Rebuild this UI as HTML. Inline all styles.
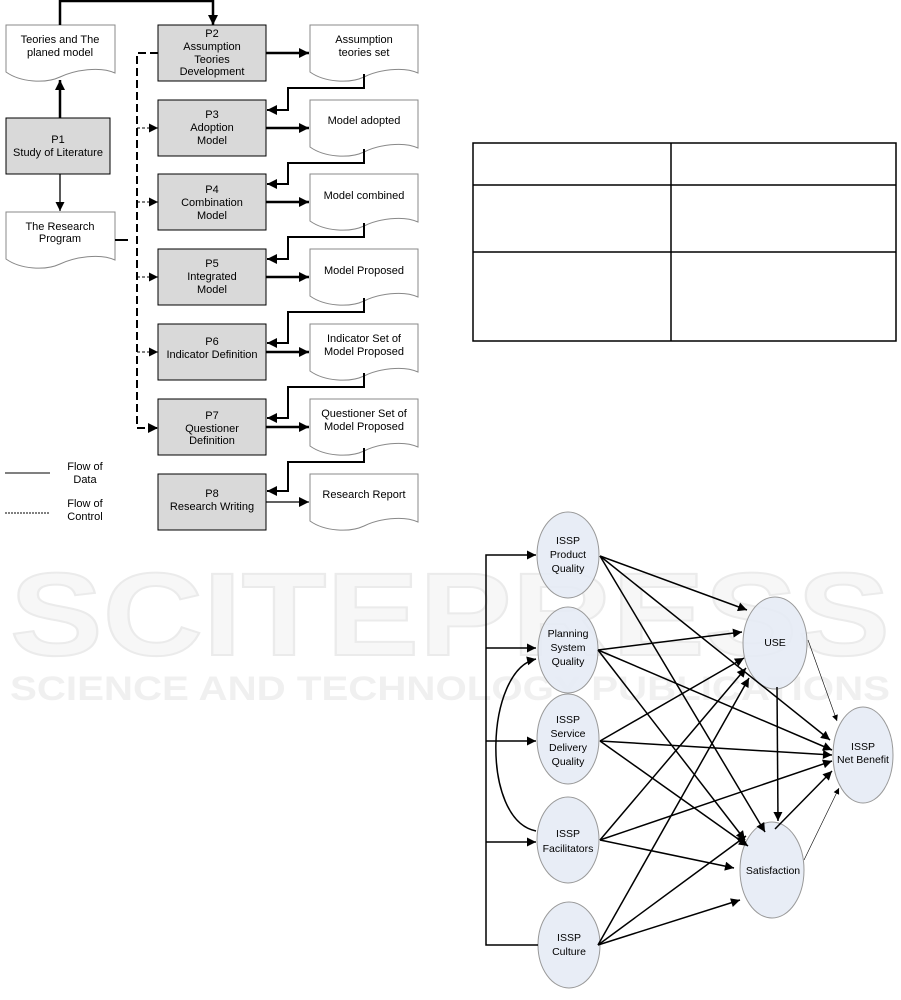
<!DOCTYPE html>
<html><head><meta charset="utf-8"><style>
html,body{margin:0;padding:0;background:#fff;}
svg{display:block;font-family:"Liberation Sans",Arial,sans-serif;}
</style></head><body>
<svg width="901" height="1000" viewBox="0 0 901 1000" xmlns="http://www.w3.org/2000/svg">
<defs>
<marker id="a" viewBox="0 0 10 10" refX="10" refY="5" markerWidth="7" markerHeight="6" orient="auto" markerUnits="userSpaceOnUse"><path d="M0,0L10,5L0,10z" fill="#000"/></marker>
<marker id="b" viewBox="0 0 10 10" refX="10" refY="5" markerWidth="16" markerHeight="10" orient="auto" markerUnits="userSpaceOnUse"><path d="M0,0L10,5L0,10z" fill="#000"/></marker>
<marker id="c" viewBox="0 0 10 10" refX="10" refY="5" markerWidth="13" markerHeight="9" orient="auto" markerUnits="userSpaceOnUse"><path d="M0,0L10,5L0,10z" fill="#000"/></marker>
</defs>

<!-- watermark -->
<g font-weight="bold" fill="#f7f7f7" stroke="#ebebeb" stroke-width="2">
<text x="450" y="655" font-size="118" text-anchor="middle" textLength="880" lengthAdjust="spacingAndGlyphs">SCITEPRESS</text>
</g>
<text x="450" y="700" font-size="34" font-weight="bold" fill="#f0f0f0" text-anchor="middle" textLength="880" lengthAdjust="spacingAndGlyphs">SCIENCE AND TECHNOLOGY PUBLICATIONS</text>

<!-- Left flow diagram -->
<g fill="#fff" stroke="#888" stroke-width="1">
<path d="M6,25H115V73C100,66 75,70 60,77C45,84 20,82 6,72Z"/>
<path d="M6,212H115V260C100,253 75,257 60,264C45,271 20,269 6,259Z"/>
<path d="M310,25H418V73C403,66 378,70 364,77C349,84 324,82 310,72Z"/>
<path d="M310,100H418V148C403,141 378,145 364,152C349,159 324,157 310,147Z"/>
<path d="M310,174H418V222C403,215 378,219 364,226C349,233 324,231 310,221Z"/>
<path d="M310,249H418V297C403,290 378,294 364,301C349,308 324,306 310,296Z"/>
<path d="M310,324H418V372C403,365 378,369 364,376C349,383 324,381 310,371Z"/>
<path d="M310,399H418V447C403,440 378,444 364,451C349,458 324,456 310,446Z"/>
<path d="M310,474H418V522C403,515 378,519 364,526C349,533 324,531 310,521Z"/>
</g>
<g fill="#d9d9d9" stroke="#000" stroke-width="1">
<rect x="6" y="118" width="104" height="56"/>
<rect x="158" y="25" width="108" height="56"/>
<rect x="158" y="100" width="108" height="56"/>
<rect x="158" y="174" width="108" height="56"/>
<rect x="158" y="249" width="108" height="56"/>
<rect x="158" y="324" width="108" height="56"/>
<rect x="158" y="399" width="108" height="56"/>
<rect x="158" y="474" width="108" height="56"/>
</g>
<g font-size="11" text-anchor="middle" fill="#000">
<text x="60" y="43">Teories and The</text><text x="60" y="56">planed model</text>
<text x="58" y="143">P1</text><text x="58" y="156">Study of Literature</text>
<text x="60" y="230">The Research</text><text x="60" y="242">Program</text>
<text x="212" y="37">P2</text><text x="212" y="50">Assumption</text><text x="212" y="63">Teories</text><text x="212" y="75">Development</text>
<text x="364" y="43">Assumption</text><text x="364" y="56">teories set</text>
<text x="212" y="118">P3</text><text x="212" y="131">Adoption</text><text x="212" y="144">Model</text>
<text x="364" y="124">Model adopted</text>
<text x="212" y="193">P4</text><text x="212" y="206">Combination</text><text x="212" y="219">Model</text>
<text x="364" y="199">Model combined</text>
<text x="212" y="267">P5</text><text x="212" y="280">Integrated</text><text x="212" y="293">Model</text>
<text x="364" y="274">Model Proposed</text>
<text x="212" y="345">P6</text><text x="212" y="358">Indicator Definition</text>
<text x="364" y="342">Indicator Set of</text><text x="364" y="355">Model Proposed</text>
<text x="212" y="419">P7</text><text x="212" y="432">Questioner</text><text x="212" y="444">Definition</text>
<text x="364" y="417">Questioner Set of</text><text x="364" y="430">Model Proposed</text>
<text x="212" y="497">P8</text><text x="212" y="510">Research Writing</text>
<text x="364" y="498">Research Report</text>
<text x="85" y="470">Flow of</text><text x="85" y="483">Data</text>
<text x="85" y="507">Flow of</text><text x="85" y="520">Control</text>
</g>
<g stroke="#000" fill="none">
<line x1="5" y1="473" x2="50" y2="473" stroke-width="1"/>
<line x1="5" y1="513" x2="50" y2="513" stroke-width="1" stroke-dasharray="2,1"/>
<path d="M60,25V1H213V25" stroke-width="2.5" marker-end="url(#b)"/>
<line x1="60" y1="118" x2="60" y2="80" stroke-width="2.5" marker-end="url(#b)"/>
<line x1="60" y1="174" x2="60" y2="211" stroke-width="1.3" marker-end="url(#c)"/>
<line x1="115" y1="240" x2="128" y2="240" stroke-width="2"/>
<path d="M158,53H137V428H158" stroke-width="2" stroke-dasharray="8,4" marker-end="url(#b)"/>
<g stroke-width="1" stroke-dasharray="3,2">
<line x1="137" y1="128" x2="158" y2="128" marker-end="url(#c)"/>
<line x1="137" y1="202" x2="158" y2="202" marker-end="url(#c)"/>
<line x1="137" y1="277" x2="158" y2="277" marker-end="url(#c)"/>
<line x1="137" y1="352" x2="158" y2="352" marker-end="url(#c)"/>
</g>
<g stroke-width="2.5">
<line x1="266" y1="53" x2="309" y2="53" marker-end="url(#b)"/>
<line x1="266" y1="128" x2="309" y2="128" marker-end="url(#b)"/>
<line x1="266" y1="202" x2="309" y2="202" marker-end="url(#b)"/>
<line x1="266" y1="277" x2="309" y2="277" marker-end="url(#b)"/>
<line x1="266" y1="352" x2="309" y2="352" marker-end="url(#b)"/>
<line x1="266" y1="427" x2="309" y2="427" marker-end="url(#b)"/>
<line x1="266" y1="502" x2="309" y2="502" stroke-width="1.3" marker-end="url(#b)"/>
</g>
<g stroke-width="2">
<path d="M364,74V88H288V110H267" marker-end="url(#b)"/>
<path d="M364,149V163H288V184H267" marker-end="url(#b)"/>
<path d="M364,223V237H288V259H267" marker-end="url(#b)"/>
<path d="M364,298V312H288V343H267" marker-end="url(#b)"/>
<path d="M364,373V387H288V418H267" marker-end="url(#b)"/>
<path d="M364,448V462H288V491H267" marker-end="url(#b)"/>
</g>
</g>

<!-- Table -->
<g stroke="#000" stroke-width="1.5" fill="none">
<rect x="473" y="143" width="423" height="198"/>
<line x1="473" y1="185" x2="896" y2="185"/>
<line x1="473" y1="252" x2="896" y2="252"/>
<line x1="671" y1="143" x2="671" y2="341"/>
</g>

<!-- Right model -->
<g fill="#e6ebf5" stroke="#999" stroke-width="1" fill-opacity="0.9">
<ellipse cx="568" cy="555" rx="31" ry="43"/>
<ellipse cx="568" cy="650" rx="30" ry="43"/>
<ellipse cx="568" cy="739" rx="31" ry="45"/>
<ellipse cx="568" cy="840" rx="31" ry="43"/>
<ellipse cx="569" cy="945" rx="31" ry="43"/>
<ellipse cx="775" cy="643" rx="32" ry="46"/>
<ellipse cx="772" cy="870" rx="32" ry="48"/>
<ellipse cx="863" cy="755" rx="30" ry="48"/>
</g>
<g font-size="10.5" text-anchor="middle" fill="#000">
<text x="568" y="544">ISSP</text><text x="568" y="558">Product</text><text x="568" y="572">Quality</text>
<text x="568" y="637">Planning</text><text x="568" y="651">System</text><text x="568" y="665">Quality</text>
<text x="568" y="723">ISSP</text><text x="568" y="737">Service</text><text x="568" y="751">Delivery</text><text x="568" y="765">Quality</text>
<text x="568" y="837">ISSP</text><text x="568" y="852">Facilitators</text>
<text x="569" y="941">ISSP</text><text x="569" y="955">Culture</text>
<text x="775" y="646">USE</text>
<text x="773" y="874">Satisfaction</text>
<text x="863" y="750">ISSP</text><text x="863" y="763">Net Benefit</text>
</g>
<g stroke="#000" stroke-width="1.5" fill="none">
<path d="M538,945H486V555H536" marker-end="url(#c)"/>
<line x1="486" y1="648" x2="536" y2="648" marker-end="url(#c)"/>
<line x1="486" y1="741" x2="536" y2="741" marker-end="url(#c)"/>
<line x1="486" y1="842" x2="536" y2="842" marker-end="url(#c)"/>
<path d="M536,831C480,820 485,670 536,659" marker-end="url(#c)"/>
<line x1="600" y1="556" x2="747" y2="610" marker-end="url(#c)"/>
<line x1="600" y1="556" x2="830" y2="740" marker-end="url(#c)"/>
<line x1="600" y1="556" x2="765" y2="832" marker-end="url(#c)"/>
<line x1="598" y1="650" x2="742" y2="632" marker-end="url(#c)"/>
<line x1="598" y1="650" x2="832" y2="750" marker-end="url(#c)"/>
<line x1="598" y1="650" x2="745" y2="840" marker-end="url(#c)"/>
<line x1="600" y1="741" x2="744" y2="658" marker-end="url(#c)"/>
<line x1="600" y1="741" x2="832" y2="755" marker-end="url(#c)"/>
<line x1="600" y1="741" x2="748" y2="846" marker-end="url(#c)"/>
<line x1="600" y1="840" x2="746" y2="668" marker-end="url(#c)"/>
<line x1="600" y1="840" x2="832" y2="761" marker-end="url(#c)"/>
<line x1="600" y1="840" x2="734" y2="868" marker-end="url(#c)"/>
<line x1="598" y1="945" x2="749" y2="678" marker-end="url(#c)"/>
<line x1="598" y1="945" x2="746" y2="836" marker-end="url(#c)"/>
<line x1="598" y1="945" x2="740" y2="900" marker-end="url(#c)"/>
<line x1="775" y1="829" x2="832" y2="771" marker-end="url(#c)"/>
<line x1="777" y1="687" x2="778" y2="821" marker-end="url(#c)"/>
<line x1="808" y1="640" x2="837" y2="721" stroke-width="0.6" marker-end="url(#a)"/>
<line x1="804" y1="860" x2="839" y2="788" stroke-width="0.6" marker-end="url(#a)"/>
</g>
</svg>
</body></html>
